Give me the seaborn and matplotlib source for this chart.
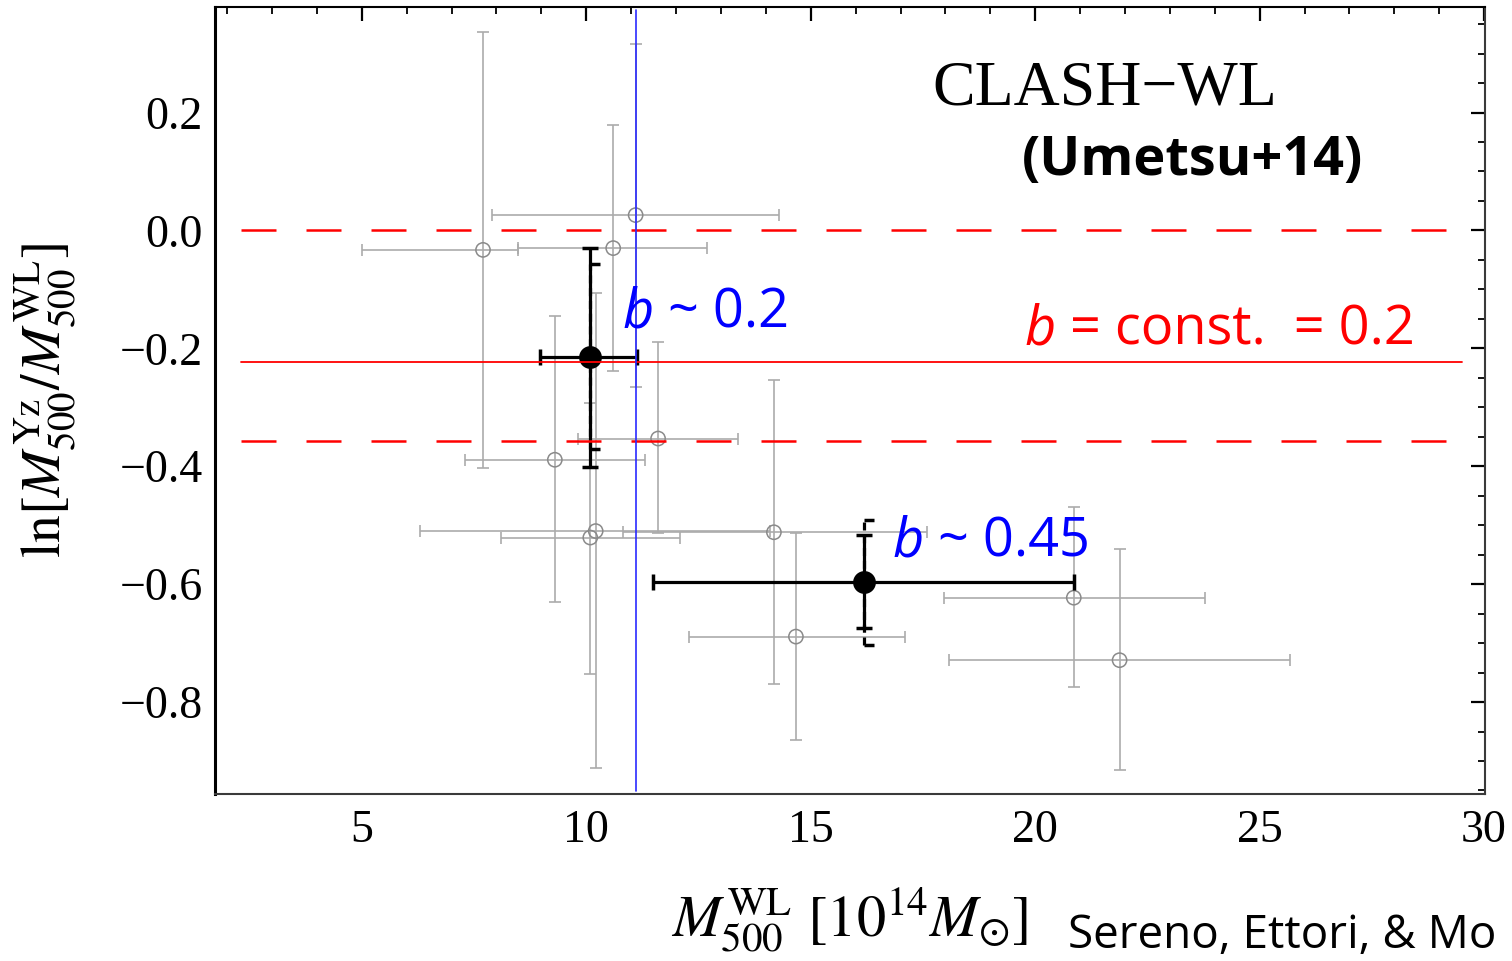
import numpy as np
import matplotlib
matplotlib.use("Agg")
import matplotlib.pyplot as plt
from matplotlib.path import Path
from matplotlib.ticker import MultipleLocator, FixedLocator, FixedFormatter
import seaborn as sns

# Individual clusters: weak-lensing mass and log mass ratio with their intervals
m_wl = [7.70, 10.60, 11.10, 9.30, 11.60, 10.21, 10.09, 14.18, 14.67, 20.86, 21.88]
m_wl_lo = [5.00, 8.48, 7.90, 7.29, 9.82, 6.29, 8.09, 10.81, 12.29, 17.98, 18.07]
m_wl_hi = [8.48, 12.70, 14.29, 11.30, 13.37, 14.10, 12.08, 17.58, 17.09, 23.78, 25.67]
ln_ratio = [-0.033, -0.030, 0.026, -0.389, -0.353, -0.510, -0.521, -0.512, -0.689, -0.623, -0.729]
ln_ratio_lo = [-0.403, -0.238, -0.265, -0.631, -0.513, -0.912, -0.753, -0.770, -0.865, -0.775, -0.915]
ln_ratio_hi = [0.336, 0.179, 0.317, -0.145, -0.189, -0.106, -0.292, -0.254, -0.514, -0.469, -0.540]

# Two mass bins
bin_m = [10.08, 16.18]
bin_m_lo = [8.98, 11.49]
bin_m_hi = [11.14, 20.86]
bin_ratio = [-0.214, -0.597]
bin_ratio_lo = [-0.401, -0.675]
bin_ratio_hi = [-0.029, -0.517]
bin_ratio_lo2 = [-0.371, -0.703]
bin_ratio_hi2 = [-0.057, -0.492]

# Constant-bias model: b = 0.2, band 0 <= b <= 0.3
b_const = 0.2
b_band = [0.0, 0.3]
line_span = [2.3, 29.5]
split_mass = 11.1

x_ticks = [5, 10, 15, 20, 25, 30]
x_ticklabels = ["5", "10", "15", "20", "25", "30"]
y_ticks = [-0.8, -0.6, -0.4, -0.2, 0.0, 0.2]
y_ticklabels = ["\u22120.8", "\u22120.6", "\u22120.4", "\u22120.2", "0.0", "0.2"]

sns.set_style("white")
plt.rcParams["font.family"] = ["Liberation Serif", "DejaVu Serif"]
plt.rcParams["mathtext.fontset"] = "stix"
for key in ["text.color", "axes.labelcolor", "xtick.color", "ytick.color",
            "xtick.labelcolor", "ytick.labelcolor"]:
    plt.rcParams[key] = "black"

fig = plt.figure(figsize=(15.12, 9.61), dpi=100)
ax = fig.add_axes([215 / 1512, 1 - 794 / 961, 1270 / 1512, 787 / 961])

grey_line = "#ababab"
grey_edge = "#8a8a8a"

# individual clusters
ax.errorbar(m_wl, ln_ratio,
            xerr=[np.subtract(m_wl, m_wl_lo), np.subtract(m_wl_hi, m_wl)],
            yerr=[np.subtract(ln_ratio, ln_ratio_lo), np.subtract(ln_ratio_hi, ln_ratio)],
            fmt="none", ecolor=grey_line, elinewidth=1.2, capsize=4.5, capthick=1.2, zorder=2)
sns.scatterplot(x=m_wl, y=ln_ratio, ax=ax, marker="o", s=105, facecolor="none",
                edgecolor=grey_edge, linewidth=1.1, zorder=3)

# binned estimates
ax.errorbar(bin_m, bin_ratio,
            xerr=[np.subtract(bin_m, bin_m_lo), np.subtract(bin_m_hi, bin_m)],
            yerr=[np.subtract(bin_ratio, bin_ratio_lo), np.subtract(bin_ratio_hi, bin_ratio)],
            fmt="none", ecolor="black", elinewidth=2.3, capsize=5.5, capthick=2.5, zorder=4)
ax.vlines(bin_m, bin_ratio_lo2, bin_ratio_hi2, colors="black", linewidth=2.3,
          linestyles=(0, (2.5, 1.5)), zorder=4)
half_cap = Path([(0, 0), (1, 0)], [Path.MOVETO, Path.LINETO])
ax.plot(bin_m + bin_m, bin_ratio_lo2 + bin_ratio_hi2, ls="none", marker=half_cap,
        markersize=14, mec="black", mew=2.5, zorder=4)
sns.scatterplot(x=bin_m, y=bin_ratio, ax=ax, marker="o", s=270, color="black",
                edgecolor="black", linewidth=0, zorder=5)

# constant bias line and band
ax.plot(line_span, [np.log(1 - b_const)] * 2, color="red", lw=1.3, zorder=6)
for b in b_band:
    ax.plot(line_span, [np.log(1 - b)] * 2, color="red", lw=1.8,
            dashes=(14, 12), zorder=6)

# mass split
ax.axvline(split_mass, color="#2a2aff", lw=1.2, ymin=0.004, ymax=0.996, zorder=7)

ax.set_xlim(1.73, 30.02)
ax.set_ylim(-0.956, 0.379)

ax.xaxis.set_major_locator(FixedLocator(x_ticks))
ax.xaxis.set_major_formatter(FixedFormatter(x_ticklabels))
ax.xaxis.set_minor_locator(MultipleLocator(1))
ax.yaxis.set_major_locator(FixedLocator(y_ticks))
ax.yaxis.set_major_formatter(FixedFormatter(y_ticklabels))
ax.yaxis.set_minor_locator(MultipleLocator(0.05))

ax.tick_params(which="both", direction="in", top=True, right=True, color="black")
ax.tick_params(which="major", length=10, width=1.6, labelsize=33)
ax.tick_params(which="minor", length=5, width=1.3)
ax.tick_params(axis="y", which="major", pad=9)
ax.tick_params(axis="x", which="major", pad=11)

for side in ["left", "top"]:
    ax.spines[side].set_color("black")
ax.spines["left"].set_linewidth(2.2)
ax.spines["top"].set_linewidth(1.5)
for side in ["right", "bottom"]:
    ax.spines[side].set_color("#3a3a3a")
    ax.spines[side].set_linewidth(1.5)

ax.set_xlabel(r"$M_{500}^{\mathrm{WL}}\ [10^{14}M_{\odot}]$", fontsize=42, labelpad=24)
ax.set_ylabel(r"$\ln[M_{500}^{\mathrm{Yz}}/M_{500}^{\mathrm{WL}}]$", fontsize=40, labelpad=30)

# annotations
sans = ["Open Sans", "DejaVu Sans"]
ax.text(17.72, 0.213, "CLASH\u2212WL", fontsize=46, family=["Liberation Serif"],
        color="black", ha="left", va="baseline", zorder=8)
ax.text(19.7, 0.094, "(Umetsu+14)", fontsize=39, family=sans,
        fontweight="bold", color="black", ha="left", va="baseline", zorder=8)


def two_part(x, y, color, rest):
    t = ax.text(x, y, "b", fontsize=39, family=sans, style="italic",
                color=color, ha="left", va="bottom", zorder=8)
    ax.annotate(rest, xy=(1, 0), xycoords=t, fontsize=39, family=sans,
                color=color, ha="left", va="bottom", zorder=8)


two_part(10.81, -0.187, "#0000ff", " ~ 0.2")
two_part(16.83, -0.575, "#0000ff", " ~ 0.45")
two_part(19.77, -0.215, "#ff0000", " = const.  = 0.2")

fig.text(1068 / 1512, 1 - 948 / 961, "Sereno, Ettori, & Mo", fontsize=33,
         family=sans, color="black", ha="left", va="baseline")

fig.savefig("out.png", dpi=100)
